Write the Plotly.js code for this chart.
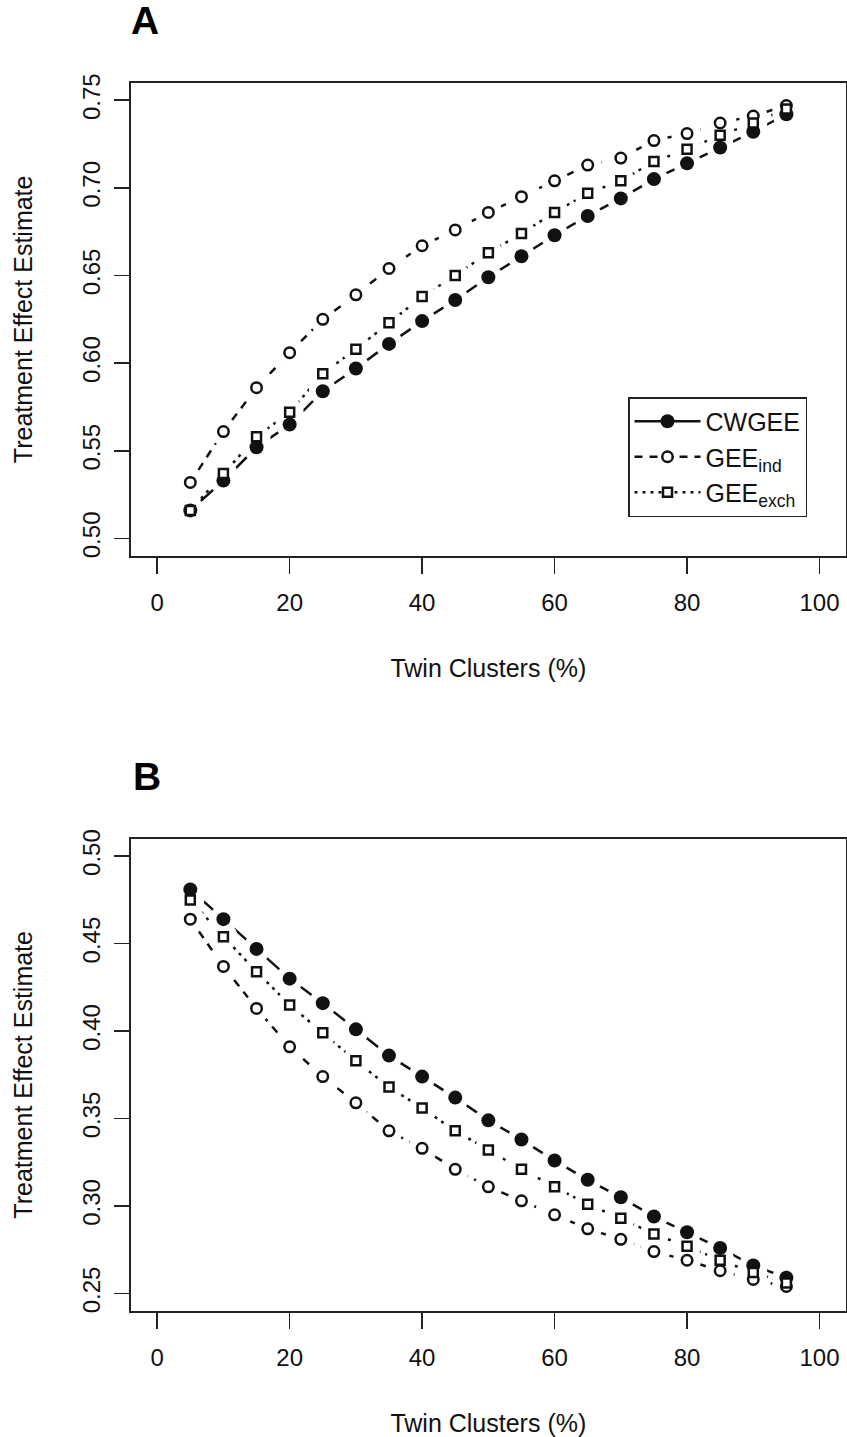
<!DOCTYPE html>
<html>
<head>
<meta charset="utf-8">
<script src="https://cdn.plot.ly/plotly-3.0.1.min.js"></script>
<style>html,body{margin:0;padding:0;background:#fff;}#chart{width:847px;height:1437px;}</style>
</head>
<body>
<div id="chart"></div>
<script>
// ---- data ----
const twinPct = [5,10,15,20,25,30,35,40,45,50,55,60,65,70,75,80,85,90,95];
const seriesNames = ['CWGEE', 'GEE<sub>ind</sub>', 'GEE<sub>exch</sub>'];
const panelLabels = ['A', 'B'];
const xTicks = [0,20,40,60,80,100];
const yTicksA = [0.50,0.55,0.60,0.65,0.70,0.75];
const yTicksB = [0.25,0.30,0.35,0.40,0.45,0.50];

const A_cwgee = [0.516,0.533,0.552,0.565,0.584,0.597,0.611,0.624,0.636,0.649,0.661,0.673,0.684,0.694,0.705,0.714,0.723,0.732,0.742];
const A_ind   = [0.532,0.561,0.586,0.606,0.625,0.639,0.654,0.667,0.676,0.686,0.695,0.704,0.713,0.717,0.727,0.731,0.737,0.741,0.747];
const A_exch  = [0.516,0.537,0.558,0.572,0.594,0.608,0.623,0.638,0.650,0.663,0.674,0.686,0.697,0.704,0.715,0.722,0.730,0.737,0.745];

const B_cwgee = [0.481,0.464,0.447,0.430,0.416,0.401,0.386,0.374,0.362,0.349,0.338,0.326,0.315,0.305,0.294,0.285,0.276,0.266,0.259];
const B_ind   = [0.464,0.437,0.413,0.391,0.374,0.359,0.343,0.333,0.321,0.311,0.303,0.295,0.287,0.281,0.274,0.269,0.263,0.258,0.254];
const B_exch  = [0.475,0.454,0.434,0.415,0.399,0.383,0.368,0.356,0.343,0.332,0.321,0.311,0.301,0.293,0.284,0.277,0.269,0.262,0.256];

// ---- styles ----
const FONT = 'Liberation Sans, Arial, sans-serif';
const INK = '#111';
const styles = [
  {dash: 'solid',       marker: {symbol: 'circle', size: 14, color: INK, line: {width: 0, color: INK}}},
  {dash: '8px,7px',     marker: {symbol: 'circle', size: 10.5, color: '#fff', line: {width: 2.5, color: INK}}},
  {dash: '3px,5px',     marker: {symbol: 'square', size: 9, color: '#fff', line: {width: 2.5, color: INK}}}
];

// lines (with legend) -> white gap discs around points (like R type="b") -> point symbols
function panelTraces(seriesList, xa, ya, showLegend) {
  const lines = [], gaps = [], marks = [];
  seriesList.forEach((ys, i) => {
    lines.push({
      x: twinPct, y: ys, xaxis: xa, yaxis: ya, type: 'scatter', mode: 'lines+markers',
      name: seriesNames[i], showlegend: showLegend, legendgroup: 'g' + i,
      line: {color: INK, width: 2.5, dash: styles[i].dash},
      marker: styles[i].marker, hoverinfo: 'x+y'
    });
    gaps.push({
      x: twinPct, y: ys, xaxis: xa, yaxis: ya, type: 'scatter', mode: 'markers',
      showlegend: false, hoverinfo: 'skip',
      marker: {symbol: 'circle', size: 28, color: '#fff', line: {width: 0}}
    });
    marks.push({
      x: twinPct, y: ys, xaxis: xa, yaxis: ya, type: 'scatter', mode: 'markers',
      showlegend: false, legendgroup: 'g' + i, hoverinfo: 'x+y',
      marker: styles[i].marker
    });
  });
  return lines.concat(gaps, marks);
}

const data = panelTraces([A_cwgee, A_ind, A_exch], 'x', 'y', true)
  .concat(panelTraces([B_cwgee, B_ind, B_exch], 'x2', 'y2', false));

const W = 847, H = 1437;
const xDom = [130.7 / W, 846 / W];
const yDomA = [1 - 556 / H, 1 - 82.7 / H];
const yDomB = [1 - 1311 / H, 1 - 838.7 / H];

function xAxis(anchor) {
  return {
    domain: xDom, anchor: anchor, range: [-4, 104], tickvals: xTicks,
    ticks: 'outside', ticklen: 16, tickwidth: 1.5, tickcolor: '#222',
    showline: true, mirror: true, linecolor: '#222', linewidth: 1.5,
    showgrid: false, zeroline: false, automargin: false,
    tickfont: {family: FONT, size: 24, color: INK},
    ticklabelstandoff: 9,
    title: {text: 'Twin Clusters (%)', font: {family: FONT, size: 25, color: INK}, standoff: 44}
  };
}
function yAxis(anchor, dom, rng, ticks) {
  return {
    domain: dom, anchor: anchor, range: rng, tickvals: ticks, tickformat: '.2f',
    tickangle: -90,
    ticks: 'outside', ticklen: 15, tickwidth: 1.5, tickcolor: '#222',
    showline: true, mirror: true, linecolor: '#222', linewidth: 1.5,
    showgrid: false, zeroline: false, automargin: false,
    tickfont: {family: FONT, size: 24, color: INK},
    ticklabelstandoff: 5,
    title: {text: 'Treatment Effect Estimate', font: {family: FONT, size: 25, color: INK}, standoff: 38}
  };
}

const layout = {
  width: W, height: H,
  margin: {l: 0, r: 0, t: 0, b: 0},
  paper_bgcolor: '#fff', plot_bgcolor: '#fff',
  font: {family: FONT, color: INK},
  showlegend: true,
  xaxis: xAxis('y'),
  yaxis: yAxis('x', yDomA, [0.49, 0.76], yTicksA),
  xaxis2: xAxis('y2'),
  yaxis2: yAxis('x2', yDomB, [0.24, 0.51], yTicksB),
  legend: {
    x: 628 / W, y: 1 - 397 / H, xanchor: 'left', yanchor: 'top',
    bgcolor: '#fff', bordercolor: '#222', borderwidth: 1.5,
    font: {family: FONT, size: 25, color: INK},
    tracegroupgap: 0, itemwidth: 66
  },
  annotations: [
    {text: '<b>' + panelLabels[0] + '</b>', x: 129 / W, y: 1 - 21 / H, xref: 'paper', yref: 'paper',
     xanchor: 'left', yanchor: 'middle', showarrow: false, font: {family: FONT, size: 39, color: '#000'}},
    {text: '<b>' + panelLabels[1] + '</b>', x: 131 / W, y: 1 - 776 / H, xref: 'paper', yref: 'paper',
     xanchor: 'left', yanchor: 'middle', showarrow: false, font: {family: FONT, size: 39, color: '#000'}}
  ]
};

Plotly.newPlot('chart', data, layout, {displayModeBar: false, staticPlot: true});
</script>
</body>
</html>
